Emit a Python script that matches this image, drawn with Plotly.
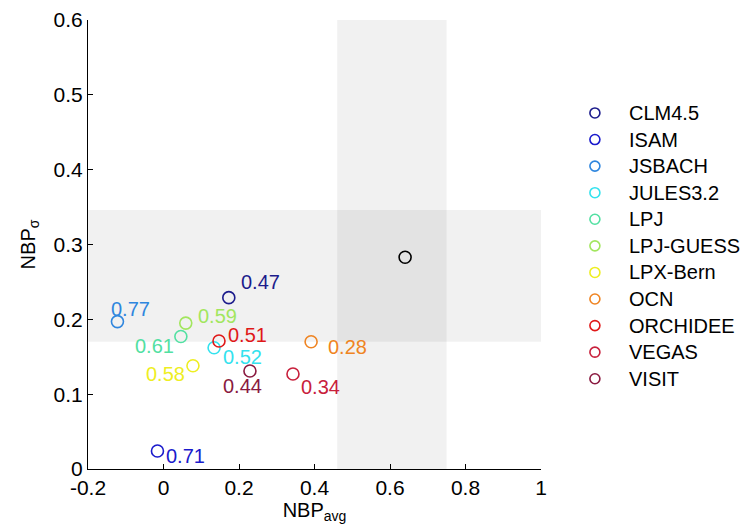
import plotly.graph_objects as go

# ---- data ----
models = ["CLM4.5", "ISAM", "JSBACH", "JULES3.2", "LPJ", "LPJ-GUESS",
          "LPX-Bern", "OCN", "ORCHIDEE", "VEGAS", "VISIT"]
nbp_avg = [0.173, -0.016, -0.122, 0.134, 0.046, 0.059, 0.078, 0.391, 0.147, 0.343, 0.229]
nbp_sigma = [0.229, 0.024, 0.197, 0.162, 0.177, 0.195, 0.138, 0.170, 0.171, 0.127, 0.131]
corr_labels = ["0.47", "0.71", "0.77", "0.52", "0.61", "0.59", "0.58", "0.28", "0.51", "0.34", "0.44"]

obs_avg = 0.64
obs_sigma = 0.283
obs_avg_range = [0.46, 0.75]
obs_sigma_range = [0.17, 0.346]

x_ticks = [-0.2, 0, 0.2, 0.4, 0.6, 0.8, 1]
x_tick_text = ["-0.2", "0", "0.2", "0.4", "0.6", "0.8", "1"]
y_ticks = [0, 0.1, 0.2, 0.3, 0.4, 0.5, 0.6]
y_tick_text = ["0", "0.1", "0.2", "0.3", "0.4", "0.5", "0.6"]

# ---- styles ----
colors = ["#1c1c8c", "#1a1acc", "#2f86de", "#33e2ee", "#52e0a2", "#a2e65e",
          "#eeee22", "#ef8422", "#e01818", "#c8203c", "#8a1a40"]
label_shift = [(32, 16), (28, -5), (13, 13), (28, -9), (-26, -9), (32, 7),
               (-27, -8), (36, -5), (29, 6), (28, -13), (-7, -15)]
FONT = "Liberation Sans, Arial, sans-serif"
LEG_MARK_X = 1.119
LEG_TEXT_X = 1.19
LEG_TOP_Y = 0.793
LEG_STEP = 0.0592

fig = go.Figure()

for name, xv, yv, c in zip(models, nbp_avg, nbp_sigma, colors):
    fig.add_trace(go.Scatter(
        x=[xv], y=[yv], mode="markers", name=name, showlegend=False,
        marker=dict(symbol="circle-open", size=12, color=c, line=dict(width=1.6, color=c)),
    ))

fig.add_trace(go.Scatter(
    x=[obs_avg], y=[obs_sigma], mode="markers", showlegend=False,
    marker=dict(symbol="circle-open", size=12, color="black", line=dict(width=1.6, color="black")),
))

for xv, yv, t, c, (dx, dy) in zip(nbp_avg, nbp_sigma, corr_labels, colors, label_shift):
    fig.add_annotation(x=xv, y=yv, text=t, showarrow=False, xshift=dx, yshift=dy,
                       font=dict(family=FONT, size=20, color=c))

# legend (drawn manually for MATLAB-like row spacing)
for i, (name, c) in enumerate(zip(models, colors)):
    ly = LEG_TOP_Y - i * LEG_STEP
    fig.add_shape(type="circle", xref="paper", yref="paper", xsizemode="pixel", ysizemode="pixel",
                  xanchor=LEG_MARK_X, yanchor=ly, x0=-5, x1=5, y0=-5, y1=5,
                  line=dict(color=c, width=1.6), fillcolor="rgba(0,0,0,0)")
    fig.add_annotation(xref="paper", yref="paper", x=LEG_TEXT_X, y=ly, text=name,
                       xanchor="left", yanchor="middle", showarrow=False,
                       font=dict(family=FONT, size=20, color="black"))

band = "rgba(0,0,0,0.055)"
fig.add_shape(type="rect", xref="x", yref="y", layer="below", line_width=0,
              x0=obs_avg_range[0], x1=obs_avg_range[1], y0=0, y1=0.6, fillcolor=band)
fig.add_shape(type="rect", xref="x", yref="y", layer="below", line_width=0,
              x0=-0.2, x1=1, y0=obs_sigma_range[0], y1=obs_sigma_range[1], fillcolor=band)

fig.update_layout(
    width=751, height=531,
    margin=dict(l=80, r=218, t=12, b=70),
    paper_bgcolor="white", plot_bgcolor="white",
    font=dict(family=FONT, size=20, color="black"),
    showlegend=False,
    xaxis=dict(range=[-0.2, 1], tickvals=x_ticks, ticktext=x_tick_text, automargin=False,
               showgrid=False, zeroline=False, showline=True, linecolor="black",
               linewidth=1.2, ticks="inside", ticklen=5, tickcolor="black",
               tickfont=dict(size=21),
               title=dict(text="NBP<sub>avg</sub>", standoff=4, font=dict(size=20))),
    yaxis=dict(range=[0, 0.6], tickvals=y_ticks, ticktext=y_tick_text, automargin=False,
               showgrid=False, zeroline=False, showline=True, linecolor="black",
               linewidth=1.2, ticks="inside", ticklen=5, tickcolor="black",
               tickfont=dict(size=21),
               title=dict(text="NBP<sub>σ</sub>", standoff=12, font=dict(size=20))),
)

fig.write_html("out.html")
